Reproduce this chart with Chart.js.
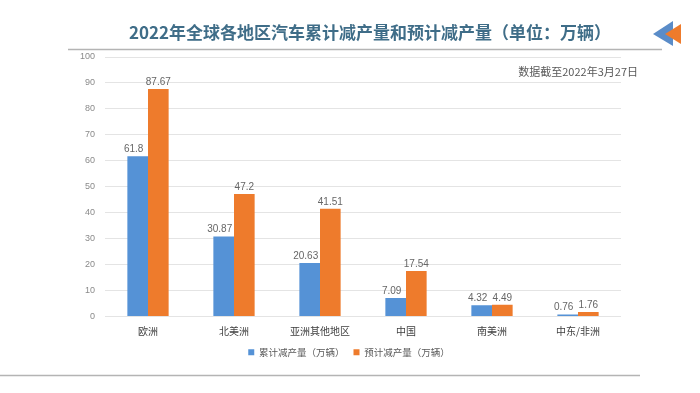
<!DOCTYPE html>
<html>
<head>
    <meta charset="utf-8">
    <style>
        html, body { margin: 0; padding: 0; background: #fff; }
        #wrap { position: relative; width: 700px; height: 393px; }
    </style>
    <script src="https://cdn.jsdelivr.net/npm/chart.js"></script>
</head>
<body>
    <div id="wrap"><canvas id="chart" width="700" height="393"></canvas></div>
    <script>
        // chart data
        const regions = ['欧洲', '北美洲', '亚洲其他地区', '中国', '南美洲', '中东/非洲'];
        const cumulativeCut = [61.8, 30.87, 20.63, 7.09, 4.32, 0.76];
        const forecastCut = [87.67, 47.2, 41.51, 17.54, 4.49, 1.76];
        const seriesNames = ['累计减产量（万辆）', '预计减产量（万辆）'];
        const yTicks = [0, 10, 20, 30, 40, 50, 60, 70, 80, 90, 100];

        const titleText = '2022年全球各地区汽车累计减产量和预计减产量（单位：万辆）';
        const noteText = '数据截至2022年3月27日';

        const BLUE = '#5592d6';
        const ORANGE = '#ee7b2c';
        const CJK = '"Noto Sans CJK SC", "Noto Sans", sans-serif';

        // title, rules, arrow icon and note
        const decorPlugin = {
            id: 'decor',
            beforeDraw(chart) {
                const ctx = chart.ctx;
                ctx.save();
                ctx.fillStyle = '#fff';
                ctx.fillRect(0, 0, chart.width, chart.height);

                ctx.fillStyle = '#3f6d88';
                ctx.font = 'bold 17px ' + CJK;
                ctx.textAlign = 'center';
                ctx.textBaseline = 'middle';
                ctx.fillText(titleText, 370, 33);

                ctx.strokeStyle = '#b4b4b4';
                ctx.lineWidth = 1.5;
                ctx.beginPath();
                ctx.moveTo(68, 49.5);
                ctx.lineTo(662, 49.5);
                ctx.stroke();

                ctx.beginPath();
                ctx.moveTo(0, 375.5);
                ctx.lineTo(640, 375.5);
                ctx.stroke();

                // arrow
                ctx.fillStyle = '#5a8cc8';
                ctx.beginPath();
                ctx.moveTo(653, 34);
                ctx.lineTo(673, 21);
                ctx.lineTo(673, 46);
                ctx.closePath();
                ctx.fill();
                ctx.fillStyle = ORANGE;
                ctx.beginPath();
                ctx.moveTo(665, 34);
                ctx.lineTo(681, 24);
                ctx.lineTo(681, 44);
                ctx.closePath();
                ctx.fill();

                ctx.fillStyle = '#595959';
                ctx.font = '11px ' + CJK;
                ctx.textAlign = 'right';
                ctx.fillText(noteText, 638, 72);
                ctx.restore();
            }
        };

        // value labels above bars
        const valueLabelPlugin = {
            id: 'valueLabels',
            afterDatasetsDraw(chart) {
                const ctx = chart.ctx;
                ctx.save();
                ctx.fillStyle = '#666';
                ctx.font = '10px "Liberation Sans", sans-serif';
                ctx.textAlign = 'center';
                ctx.textBaseline = 'bottom';
                chart.data.datasets.forEach((ds, i) => {
                    const meta = chart.getDatasetMeta(i);
                    const shift = i === 0 ? -4 : 0;
                    meta.data.forEach((bar, j) => {
                        ctx.fillText(String(ds.data[j]), bar.x + shift, bar.y - 2);
                    });
                });
                ctx.restore();
            }
        };

        new Chart(document.getElementById('chart'), {
            type: 'bar',
            data: {
                labels: regions,
                datasets: [
                    { label: seriesNames[0], data: cumulativeCut, backgroundColor: BLUE },
                    { label: seriesNames[1], data: forecastCut, backgroundColor: ORANGE }
                ]
            },
            options: {
                responsive: false,
                animation: false,
                categoryPercentage: 0.48,
                barPercentage: 1,
                layout: { padding: { left: 77, right: 79, top: 57, bottom: 26 } },
                plugins: {
                    title: { display: false },
                    tooltip: { enabled: false },
                    legend: {
                        position: 'bottom',
                        labels: {
                            boxWidth: 6,
                            boxHeight: 6,
                            padding: 9,
                            color: '#595959',
                            font: { size: 9.5, family: CJK }
                        }
                    }
                },
                scales: {
                    x: {
                        grid: { display: false },
                        border: { display: false },
                        ticks: { color: '#404040', font: { size: 10, family: CJK }, padding: 1 }
                    },
                    y: {
                        min: 0,
                        max: 100,
                        afterFit(scale) { scale.width = 28; },
                        afterBuildTicks(scale) { scale.ticks = yTicks.map(v => ({ value: v })); },
                        grid: { color: '#e4e4e4', lineWidth: 1, drawTicks: false },
                        border: { display: false },
                        ticks: { color: '#8a8a8a', font: { size: 9, family: '"Liberation Sans", sans-serif' }, padding: 10 }
                    }
                }
            },
            plugins: [decorPlugin, valueLabelPlugin]
        });
    </script>
</body>
</html>
